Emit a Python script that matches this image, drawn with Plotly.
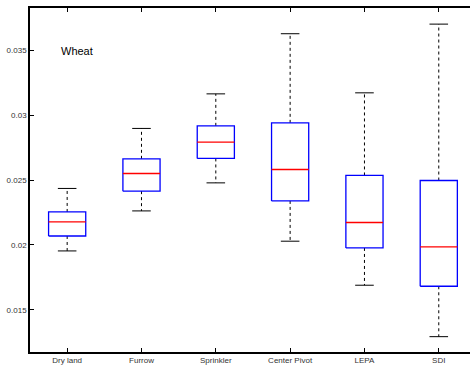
import plotly.graph_objects as go

categories = ["Dry land", "Furrow", "Sprinkler", "Center Pivot", "LEPA", "SDI"]
lower_whisker = [0.01954, 0.02262, 0.02478, 0.02029, 0.01690, 0.01294]
q1 = [0.02069, 0.02414, 0.02666, 0.02339, 0.01977, 0.01682]
median = [0.02177, 0.02550, 0.02791, 0.02581, 0.02173, 0.01985]
q3 = [0.02254, 0.02663, 0.02917, 0.02940, 0.02535, 0.02496]
upper_whisker = [0.02435, 0.02897, 0.03163, 0.03626, 0.03171, 0.03700]
y_ticks = [0.015, 0.02, 0.025, 0.03, 0.035]
y_tick_labels = ["0.015", "0.02", "0.025", "0.03", "0.035"]
label_text = "Wheat"

half_box = 0.25
half_cap = 0.125

fig = go.Figure()
for i, name in enumerate(categories):
    x = i + 1
    # whiskers (dashed)
    fig.add_trace(go.Scatter(x=[x, x, None, x, x], y=[q3[i], upper_whisker[i], None, q1[i], lower_whisker[i]],
                             mode="lines", line=dict(color="black", width=1, dash="3px,3px"),
                             hoverinfo="skip", showlegend=False))
    # caps
    fig.add_trace(go.Scatter(x=[x - half_cap, x + half_cap, None, x - half_cap, x + half_cap],
                             y=[upper_whisker[i], upper_whisker[i], None, lower_whisker[i], lower_whisker[i]],
                             mode="lines", line=dict(color="black", width=1),
                             hoverinfo="skip", showlegend=False))
    # box
    fig.add_trace(go.Scatter(x=[x - half_box, x + half_box, x + half_box, x - half_box, x - half_box],
                             y=[q1[i], q1[i], q3[i], q3[i], q1[i]],
                             mode="lines", line=dict(color="#0000ff", width=1.3),
                             hoverinfo="skip", showlegend=False))
    # median
    fig.add_trace(go.Scatter(x=[x - half_box, x + half_box], y=[median[i], median[i]],
                             mode="lines", line=dict(color="#ff0000", width=1.3),
                             hoverinfo="skip", showlegend=False))

fig.add_annotation(text=label_text, xref="paper", yref="paper", x=0.066, y=0.875,
                   xanchor="left", yanchor="middle", showarrow=False,
                   font=dict(size=11, color="black", family="Liberation Sans, Arial"))

fig.update_layout(
    width=470, height=367,
    margin=dict(l=30, r=0, t=8, b=15),
    paper_bgcolor="white", plot_bgcolor="white",
    font=dict(family="Liberation Sans, Arial", size=8, color="#333"),
    xaxis=dict(range=[0.5, 6.42], tickvals=list(range(1, len(categories) + 1)), ticktext=categories,
               showgrid=False, zeroline=False, showline=True, linecolor="black", linewidth=1.5,
               mirror="ticks", ticks="inside", ticklen=4, tickcolor="black", tickwidth=1),
    yaxis=dict(range=[0.01176, 0.03824], tickvals=y_ticks, ticktext=y_tick_labels,
               showgrid=False, zeroline=False, showline=True, linecolor="black", linewidth=1.5,
               mirror=False, ticks="inside", ticklen=4, tickcolor="black", tickwidth=1),
)

fig.write_html("out.html", config={"displayModeBar": False},
               post_script="document.body.style.margin='0';document.body.style.padding='0';"
                           "document.body.style.overflow='hidden';")
